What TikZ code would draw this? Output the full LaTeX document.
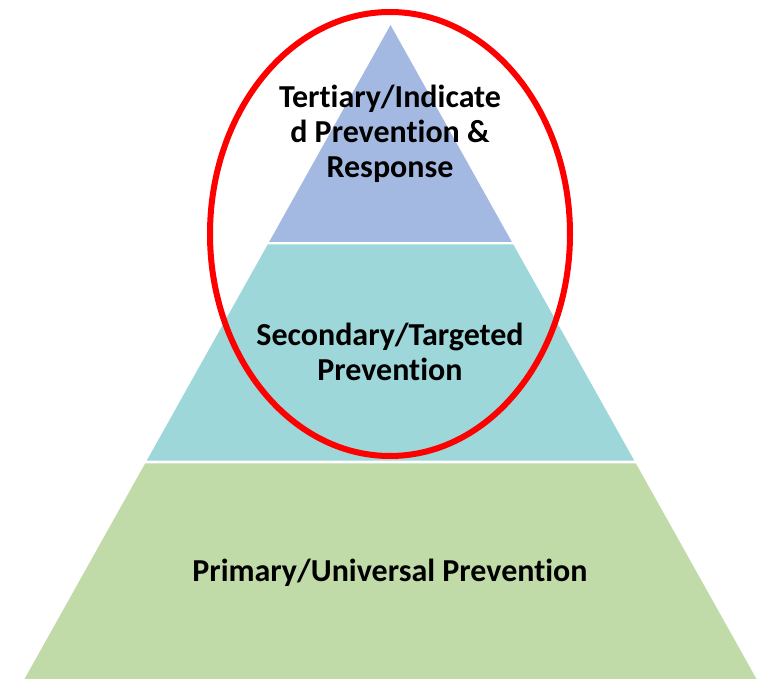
\documentclass[tikz,border=0pt]{standalone}
\usepackage{fontspec}
\setmainfont[Ligatures={NoCommon,NoContextual}]{Carlito}
\begin{document}
\begin{tikzpicture}[x=1pt,y=-1pt,
  tier/.style={draw=none},
  label/.style={font=\bfseries\fontsize{32}{35}\selectfont, align=center, text=black, inner sep=0pt},
  ring/.style={draw=ringred, line width=6pt}]
\definecolor{topblue}{HTML}{A4B9E1}
\definecolor{midteal}{HTML}{9DD7D9}
\definecolor{basegreen}{HTML}{C1DBA8}
\definecolor{ringred}{HTML}{FF0000}
\useasboundingbox (0,0) rectangle (769,679);
\fill[white] (0,0) rectangle (769,679);
% pyramid: apex (390.5,25), half width grows 0.5596 per unit of depth
\fill[tier, topblue] (390.5,25) -- (511.9,242) -- (269.1,242) -- cycle;
\fill[tier, midteal] (267.7,244.5) -- (513.3,244.5) -- (634.3,460.7) -- (146.7,460.7) -- cycle;
\fill[tier, basegreen] (145.2,463.3) -- (635.8,463.3) -- (756.5,679) -- (24.5,679) -- cycle;
% tier labels
\node[label] (tertiary) at (390,134) {Tertiary/Indicate\\d Prevention \&\\Response};
\node[label] (secondary) at (390,352) {Secondary/Targeted\\Prevention};
\node[label] (primary) at (390,573) {Primary/Universal Prevention};
% highlight ring around the two upper tiers
\draw[ring] (390,234) ellipse [x radius=180, y radius=222];
\end{tikzpicture}
\end{document}
